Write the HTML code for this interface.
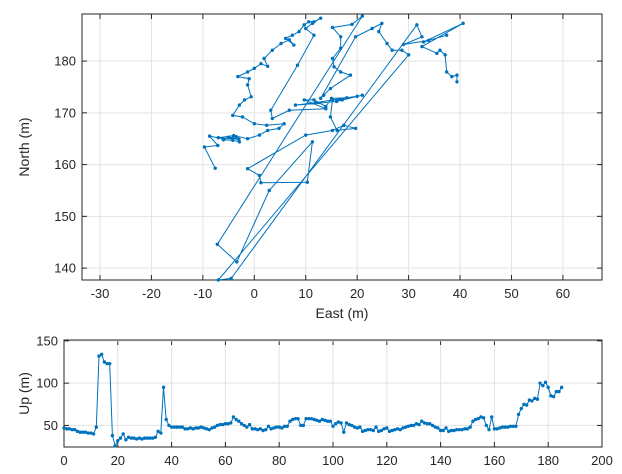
<!DOCTYPE html>
<html><head><meta charset="utf-8"><style>
body{margin:0;background:#fff;}
svg{display:block;font-family:"Liberation Sans",Arial,sans-serif;}
</style></head><body>
<svg id="chart" width="622" height="474" viewBox="0 0 622 474" xmlns="http://www.w3.org/2000/svg">
<rect width="622" height="474" fill="#fff"/>
<g id="top"></g>
<g id="bot"></g>
</svg>
<script>
const eastVals=[-7.6,-9.7,-7.1,-8.7,-6.1,-3.5,-2.9,-4.2,-6.0,-5.0,-3.0,-7.0,-4.0,-1.3,1.0,2.6,4.8,5.8,2.4,0,-2.3,-4.2,-2.9,-1.9,-0.6,-1.3,-1.0,-3.2,-1.3,0,1.3,2.6,1.9,3.5,5.2,6.8,7.7,6.1,7.4,8.7,9.7,10.6,11.6,12.9,11.3,10.0,11.6,8.4,3.2,3.5,6.8,13.9,9.7,11.6,13.9,15.0,18.0,20.0,12.0,8.0,16.0,21.0,17.1,15.2,14.8,16.1,19.7,17.4,15.2,10.0,-1.3,1.0,1.3,10.3,11.3,2.9,-3.4,-7.2,21.0,19.0,15.2,16.8,16.8,15.2,15.5,16.8,18.7,14.8,13.5,12.9,19.7,22.9,24.8,24.2,25.8,26.8,28.7,30.0,-7.0,-4.5,31.6,32.6,29.0,33.9,37.4,32.9,40.6,32.6,35.5,36.1,37.1,37.4,38.4,39.4,39.4];
const northVals=[159.3,163.4,163.7,165.5,165.0,165.4,164.4,164.7,164.8,165.3,164.9,165.2,165.6,165.0,165.7,166.6,167.0,167.9,167.6,167.9,169.2,169.5,171.5,172.5,173.1,175.4,176.6,177.0,177.9,178.6,179.5,179.0,180.5,182.1,183.4,184.1,183.1,184.4,185.0,185.7,187.0,187.6,187.6,188.3,187.3,186.3,185.0,179.2,170.5,168.9,170.5,170.8,172.5,172.5,171.2,172.8,172.9,173.2,172.0,171.5,172.2,173.4,172.5,172.5,169.2,166.6,167.0,167.6,166.6,165.7,159.2,157.9,156.5,156.6,164.4,155.0,141.2,144.6,188.7,187.1,186.5,184.7,182.5,180.5,178.9,177.9,177.3,174.7,173.4,172.8,184.7,186.3,187.3,185.7,183.4,182.1,182.1,181.2,137.7,138.0,187.0,184.7,183.2,184.0,185.0,183.7,187.3,182.8,181.5,182.1,181.2,177.9,177.0,177.3,176.0];
const eastTicks=[-30,-20,-10,0,10,20,30,40,50,60];
const northTicks=[140,150,160,170,180];
const upVals=[47,46,46,45,45,43,42,42,42,41,41,40,48,132,134,125,123,123,38,26,32,35,40,33,36,35,35,34,35,34,35,35,35,35,36,43,41,95,57,50,48,48,48,48,48,46,46,47,46,47,47,48,47,46,45,47,48,50,51,51,52,52,53,60,57,55,52,50,48,51,46,46,45,46,44,45,49,46,47,48,48,47,49,49,55,57,58,58,50,50,58,58,58,57,56,55,57,56,55,55,49,52,54,53,42,53,51,50,48,47,48,43,44,45,45,44,48,43,44,46,47,43,44,45,46,45,47,48,49,50,50,52,51,55,53,52,52,50,48,47,44,44,47,43,44,44,45,45,45,46,46,48,55,57,58,60,59,50,45,60,46,46,47,48,48,48,49,49,49,63,70,75,74,80,79,82,81,100,97,101,95,85,84,90,90,95];
const upXTicks=[0,20,40,60,80,100,120,140,160,180,200];
const upYTicks=[50,100,150];

const NS='http://www.w3.org/2000/svg';
function mk(parent,tag,attrs,text){const e=document.createElementNS(NS,tag);for(const k in attrs)e.setAttribute(k,attrs[k]);if(text!==undefined)e.textContent=text;parent.appendChild(e);return e;}
const C='#0072BD',AX='#262626',GR='#e3e3e3';

function axes(g,L,T,R,B,xs,ys,xticks,yticks,xlab,ylab,yLabX){
  for(const t of xticks){const x=xs(t);
    const gl=mk(g,'line',{x1:x,x2:x,y1:T,y2:B,stroke:GR,'stroke-width':1});
    
    
    const tl=mk(g,'text',{x:x,y:B+18,'text-anchor':'middle','font-size':13,fill:AX},String(t));
    
    
    mk(g,'line',{x1:x,x2:x,y1:B,y2:B-5,stroke:AX});mk(g,'line',{x1:x,x2:x,y1:T,y2:T+5,stroke:AX});}
  for(const t of yticks){const y=ys(t);
    const gl=mk(g,'line',{x1:L,x2:R,y1:y,y2:y,stroke:GR,'stroke-width':1});
    
    
    const tl=mk(g,'text',{x:L-6,y:y+4.5,'text-anchor':'end','font-size':13,fill:AX},String(t));
    
    
    mk(g,'line',{x1:L,x2:L+5,y1:y,y2:y,stroke:AX});mk(g,'line',{x1:R,x2:R-5,y1:y,y2:y,stroke:AX});}
  const bx=mk(g,'rect',{x:L,y:T,width:R-L,height:B-T,fill:'none',stroke:AX,'stroke-width':1});
  
  
  if(xlab){const xl=mk(g,'text',{x:(L+R)/2,y:B+38,'text-anchor':'middle','font-size':14,fill:AX},xlab);
    
    }
  const cy=(T+B)/2;
  const yl=mk(g,'text',{x:yLabX,y:cy,'text-anchor':'middle','font-size':14,fill:AX,transform:`rotate(-90 ${yLabX} ${cy})`},ylab);
  
  
}
function series(g,xs,ys,X,Y,name){
  let d='';for(let i=0;i<X.length;i++)d+=(i?'L':'M')+xs(X[i]).toFixed(1)+' '+ys(Y[i]).toFixed(1);
  const p=mk(g,'path',{d:d,fill:'none',stroke:C,'stroke-width':1});
  
  
  for(let i=0;i<X.length;i++){const c=mk(g,'circle',{cx:xs(X[i]),cy:ys(Y[i]),r:1.7,fill:C});
    
    }
}
// top
{const g=document.getElementById('top');const L=82,T=14,R=602,B=280,x0=-33.5,x1=67.6,y0=137.7,y1=189.1;
 const xs=v=>L+(v-x0)/(x1-x0)*(R-L),ys=v=>B-(v-y0)/(y1-y0)*(B-T);
 axes(g,L,T,R,B,xs,ys,eastTicks,northTicks,'East (m)','North (m)',29);
 const cg=mk(g,'g',{'clip-path':'url(#c1)'});
 mk(document.getElementById('chart'),'clipPath',{id:'c1'});
 mk(document.getElementById('c1'),'rect',{x:L-2,y:T-2,width:R-L+4,height:B-T+4});
 series(cg,xs,ys,eastVals,northVals,'track-line');}
// bottom
{const g=document.getElementById('bot');const L=64,T=340,R=602,B=447,x0=0,x1=200,y0=24.5,y1=151;
 const xs=v=>L+(v-x0)/(x1-x0)*(R-L),ys=v=>B-(v-y0)/(y1-y0)*(B-T);
 axes(g,L,T,R,B,xs,ys,upXTicks,upYTicks,null,'Up (m)',29);
 series(g,xs,ys,upVals.map((_,i)=>i),upVals,'up-line');}
</script>
</body></html>
